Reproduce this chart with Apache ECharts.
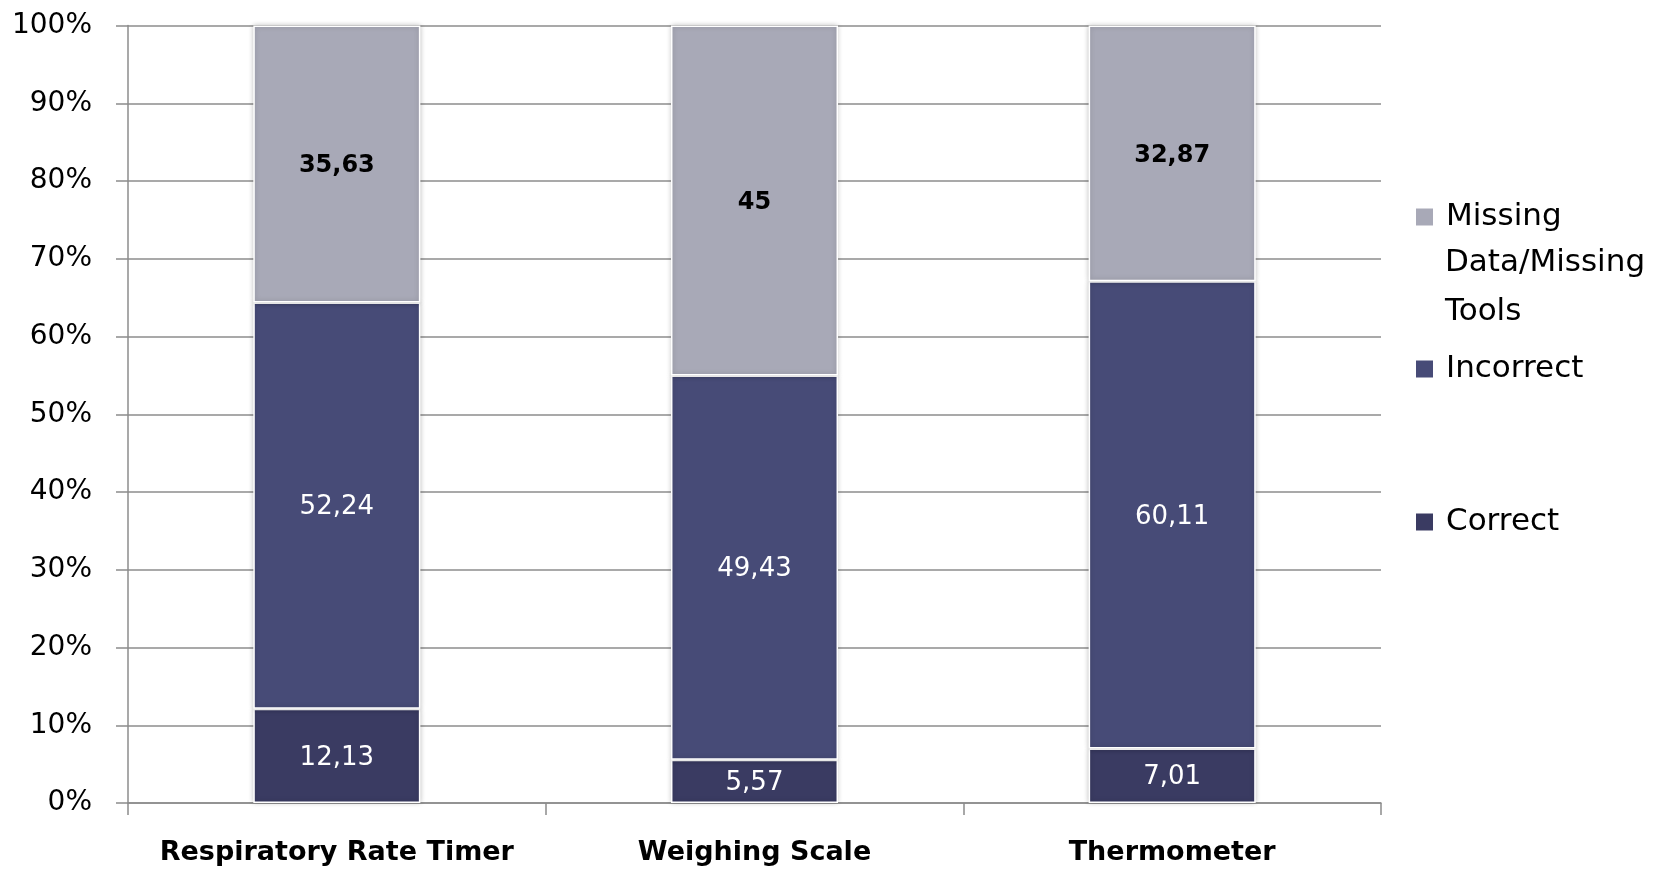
<!DOCTYPE html>
<html>
<head>
<meta charset="utf-8">
<script src="https://cdn.jsdelivr.net/npm/echarts@6/dist/echarts.min.js"></script>
<style>
  html, body { margin: 0; padding: 0; background: #fff; }
  #chart { width: 1668px; height: 870px; }
</style>
</head>
<body>
<div id="chart"></div>
<script>
const categories = ['Respiratory Rate Timer', 'Weighing Scale', 'Thermometer'];
const correct = [12.13, 5.57, 7.01];
const incorrect = [52.24, 49.43, 60.11];
const missing = [35.63, 45, 32.87];
const seriesNames = ['Correct', 'Incorrect', 'Missing Data/Missing Tools'];
const yTicks = { min: 0, max: 100, interval: 10 };

const FONT = 'DejaVu Sans';
const AXIS_COLOR = '#8c8c8c';
const colors = { correct: '#3a3b62', incorrect: '#474b77', missing: '#a8a9b7' };

const fmt = p => String(p.value).replace('.', ',');
const barStyle = color => ({
  color: color,
  borderColor: '#ffffff',
  borderWidth: 1.5,
  shadowBlur: 5,
  shadowColor: 'rgba(0,0,0,0.22)'
});

const chart = echarts.init(document.getElementById('chart'), null, { renderer: 'canvas' });

const legendCommon = {
  orient: 'vertical',
  left: 1414,
  padding: 0,
  itemWidth: 19,
  itemHeight: 19,
  icon: 'rect',
  selectedMode: false,
  textStyle: { fontFamily: FONT, fontSize: 31, color: '#000', lineHeight: 36, padding: [0, 0, 0, 7] }
};

chart.setOption({
  backgroundColor: '#ffffff',
  animation: false,
  grid: { left: 128, right: 287, top: 25.5, bottom: 67, containLabel: false },
  legend: [
    Object.assign({}, legendCommon, { top: 199, data: [seriesNames[2]], formatter: () => 'Missing' }),
    Object.assign({}, legendCommon, { top: 351, data: [seriesNames[1]] }),
    Object.assign({}, legendCommon, { top: 504, data: [seriesNames[0]] })
  ],
  graphic: [
    { type: 'text', left: 1445, top: 263 - 18, style: { text: 'Data/Missing', font: '31px ' + FONT, fill: '#000', lineHeight: 36 } },
    { type: 'text', left: 1445, top: 312 - 18, style: { text: 'Tools', font: '31px ' + FONT, fill: '#000', lineHeight: 36 } }
  ],
  xAxis: {
    type: 'category',
    data: categories,
    axisLine: { lineStyle: { color: AXIS_COLOR, width: 1.5 } },
    axisTick: { show: true, interval: 0, length: 12, alignWithLabel: false, lineStyle: { color: AXIS_COLOR, width: 1.5 } },
    axisLabel: { interval: 0, fontFamily: FONT, fontSize: 27, fontWeight: 'bold', color: '#000', margin: 36 },
    splitLine: { show: false }
  },
  yAxis: {
    type: 'value',
    min: yTicks.min,
    max: yTicks.max,
    interval: yTicks.interval,
    axisLine: { show: true, lineStyle: { color: AXIS_COLOR, width: 1.5 } },
    axisTick: { show: true, length: 12, lineStyle: { color: AXIS_COLOR, width: 1.5 } },
    axisLabel: { fontFamily: FONT, fontSize: 28, color: '#000', margin: 36, formatter: '{value}%' },
    splitLine: { show: true, lineStyle: { color: AXIS_COLOR, width: 1.5 } }
  },
  series: [
    {
      name: seriesNames[0], type: 'bar', stack: 'total', data: correct, barWidth: '40%',
      itemStyle: barStyle(colors.correct),
      label: { show: true, position: 'inside', offset: [0, 2], formatter: fmt, color: '#fff', fontFamily: FONT, fontSize: 26 }
    },
    {
      name: seriesNames[1], type: 'bar', stack: 'total', data: incorrect, barWidth: '40%',
      itemStyle: barStyle(colors.incorrect),
      label: { show: true, position: 'inside', offset: [0, 2], formatter: fmt, color: '#fff', fontFamily: FONT, fontSize: 26 }
    },
    {
      name: seriesNames[2], type: 'bar', stack: 'total', data: missing, barWidth: '40%',
      itemStyle: barStyle(colors.missing),
      label: { show: true, position: 'inside', offset: [0, 2], formatter: fmt, color: '#000', fontFamily: FONT, fontSize: 24, fontWeight: 'bold' }
    }
  ]
});
</script>
</body>
</html>
